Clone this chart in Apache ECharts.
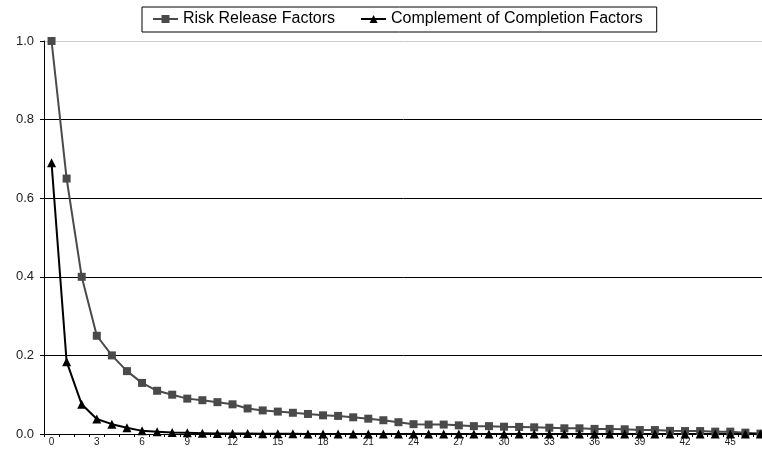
<!DOCTYPE html>
<html>
<head>
<meta charset="utf-8">
<script src="https://cdn.jsdelivr.net/npm/echarts@6/dist/echarts.min.js"></script>
<style>
html, body { margin: 0; padding: 0; background: #fff; }
#chart { width: 762px; height: 453px; }
</style>
</head>
<body>
<div id="chart"></div>
<script>
var periods = [];
for (var i = 0; i <= 47; i++) periods.push(String(i));

var riskRelease = [1.0, 0.65, 0.40, 0.25, 0.20, 0.16, 0.13, 0.11, 0.10, 0.09,
    0.086, 0.081, 0.0755, 0.065, 0.060, 0.057, 0.054, 0.051, 0.0475, 0.046,
    0.0425, 0.039, 0.035, 0.030, 0.025, 0.024, 0.024, 0.022, 0.020, 0.020,
    0.0186, 0.018, 0.017, 0.016, 0.0145, 0.0145, 0.013, 0.013, 0.012, 0.010,
    0.010, 0.008, 0.0075, 0.0075, 0.006, 0.006, 0.0035, 0.001];

var complement = [0.69, 0.184, 0.0755, 0.038, 0.025, 0.016, 0.008, 0.006, 0.004, 0.003,
    0.002, 0.001, 0.001, 0.001, 0.0005, 0.0005, 0.0005, 0, 0, 0,
    0, 0, 0, 0, 0, 0, 0, 0, 0, 0,
    0, 0, 0, 0, 0, 0, 0, 0, 0, 0,
    0, 0, 0, 0, 0, 0, 0, 0];

var myChart = echarts.init(document.getElementById('chart'));
var option = {
    animation: false,
    textStyle: { fontFamily: 'Liberation Sans, Arial, sans-serif' },
    legend: {
        top: 7,
        left: 142,
        borderColor: '#000',
        borderWidth: 1,
        padding: [4, 14, 5, 10],
        itemGap: 25,
        itemWidth: 25,
        itemHeight: 10,
        textStyle: { fontSize: 16, color: '#000' },
        data: ['Risk Release Factors', 'Complement of Completion Factors']
    },
    grid: { left: 44, top: 41, width: 724, bottom: 19, outerBoundsMode: 'none' },
    xAxis: {
        type: 'category',
        data: periods,
        boundaryGap: true,
        axisLine: { lineStyle: { color: '#000', width: 1 } },
        axisTick: { show: true, interval: 0, length: 3, lineStyle: { color: '#000' } },
        axisLabel: { interval: 2, fontSize: 10, color: '#222', margin: 3 }
    },
    yAxis: {
        type: 'value',
        min: 0,
        max: 1,
        interval: 0.2,
        axisLine: { show: true, lineStyle: { color: '#000' } },
        axisTick: { show: true, length: 4, lineStyle: { color: '#000' } },
        axisLabel: {
            fontSize: 13, color: '#222', margin: 10,
            formatter: function (v) { return v.toFixed(1); }
        },
        splitLine: {
            show: true,
            lineStyle: { color: ['#000', '#000', '#000', '#000', '#000', '#ccc'], width: 1 }
        }
    },
    series: [
        {
            name: 'Risk Release Factors',
            type: 'line',
            data: riskRelease,
            symbol: 'rect',
            symbolSize: 8,
            itemStyle: { color: '#4a4a4a' },
            lineStyle: { color: '#4a4a4a', width: 2 }
        },
        {
            name: 'Complement of Completion Factors',
            type: 'line',
            data: complement,
            symbol: 'triangle',
            symbolSize: 9,
            itemStyle: { color: '#000' },
            lineStyle: { color: '#000', width: 2 }
        }
    ]
};
myChart.setOption(option);
</script>
</body>
</html>
